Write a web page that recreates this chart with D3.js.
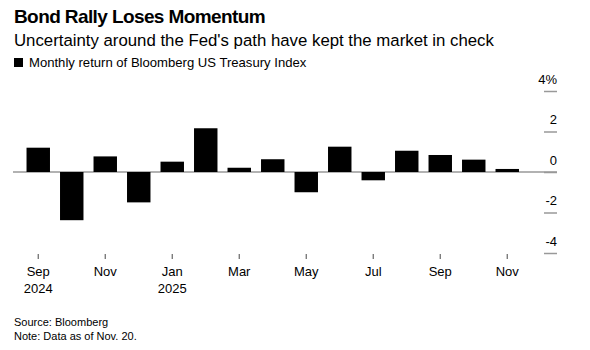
<!DOCTYPE html>
<html>
<head>
<meta charset="utf-8">
<script src="https://cdn.jsdelivr.net/npm/d3@7"></script>
<style>
  body { margin: 0; background: #fff; }
  svg { display: block; font-family: "Liberation Sans", Arial, sans-serif; }
  .axis text { fill: #000; }
</style>
</head>
<body>
<svg width="590" height="350"></svg>
<script>
const months = ['Sep 2024', 'Oct 2024', 'Nov 2024', 'Dec 2024', 'Jan 2025', 'Feb 2025', 'Mar 2025',
  'Apr 2025', 'May 2025', 'Jun 2025', 'Jul 2025', 'Aug 2025', 'Sep 2025', 'Oct 2025', 'Nov 2025'];
const returns = [1.2, -2.38, 0.77, -1.5, 0.51, 2.16, 0.21, 0.63, -1.0, 1.25, -0.41, 1.05, 0.84, 0.61, 0.15];
const xTicks = ['Sep 2024', 'Nov 2024', 'Jan 2025', 'Mar 2025', 'May 2025', 'Jul 2025', 'Sep 2025', 'Nov 2025'];
const yTicks = [-4, -2, 0, 2, 4];

const svg = d3.select('svg');

// header
svg.append('text').attr('x', 14).attr('y', 23)
  .style('font-size', '19px').style('font-weight', 'bold').style('letter-spacing', '-0.6px')
  .text('Bond Rally Loses Momentum');
svg.append('text').attr('x', 14).attr('y', 46)
  .style('font-size', '16.8px')
  .text("Uncertainty around the Fed's path have kept the market in check");
svg.append('rect').attr('x', 14).attr('y', 58).attr('width', 9).attr('height', 9).attr('fill', '#000');
svg.append('text').attr('x', 29).attr('y', 67)
  .style('font-size', '13.1px')
  .text('Monthly return of Bloomberg US Treasury Index');

const x = d3.scaleBand()
  .domain(months)
  .range([21.5, 524])
  .paddingInner(0.3)
  .paddingOuter(0.15);

const y = d3.scaleLinear()
  .domain([-4, 4])
  .range([253, 91]);

// y axis
const yAxis = svg.append('g').attr('class', 'axis')
  .attr('transform', 'translate(544,0)')
  .call(d3.axisRight(y).tickValues(yTicks).tickSize(13).tickFormat(''));
yAxis.select('.domain').remove();
yAxis.selectAll('.tick line').attr('stroke', '#999').attr('stroke-width', 1.5);
yAxis.selectAll('.tick').append('text')
  .attr('x', 13).attr('y', -8)
  .attr('text-anchor', 'end')
  .style('font-size', '13px')
  .each(function(d) {
    const t = d3.select(this);
    t.append('tspan').text(d < 0 ? '-' + Math.abs(d) : d);
    if (d === 4) t.append('tspan').text('%');
  });
yAxis.selectAll('.tick').filter(d => d === 4).select('text')
  .attr('text-anchor', 'start').attr('x', 4);

// zero line
svg.append('line')
  .attr('x1', 13).attr('x2', 557)
  .attr('y1', y(0)).attr('y2', y(0))
  .attr('stroke', '#999').attr('stroke-width', 1.5);

// bars
svg.append('g').selectAll('rect').data(months)
  .enter().append('rect')
  .attr('x', d => x(d))
  .attr('width', x.bandwidth())
  .attr('y', (d, i) => y(Math.max(0, returns[i])))
  .attr('height', (d, i) => Math.abs(y(returns[i]) - y(0)))
  .attr('fill', '#000');

// x axis
const xAxis = svg.append('g').attr('class', 'axis')
  .attr('transform', 'translate(0,254)')
  .call(d3.axisBottom(x).tickValues(xTicks).tickSize(5).tickFormat(''));
xAxis.select('.domain').remove();
xAxis.selectAll('.tick line').attr('stroke', '#666').attr('stroke-width', 1.2);
xAxis.selectAll('.tick').append('text')
  .attr('text-anchor', 'middle')
  .style('font-size', '13px')
  .each(function(d) {
    const [m, yr] = d.split(' ');
    const t = d3.select(this);
    t.append('tspan').attr('x', 0).attr('y', 22).text(m);
    if (m === 'Sep' && yr === '2024' || m === 'Jan') {
      t.append('tspan').attr('x', 0).attr('y', 39).text(yr);
    }
  });

// footer
svg.append('text').attr('x', 14).attr('y', 326)
  .style('font-size', '11px').text('Source: Bloomberg');
svg.append('text').attr('x', 14).attr('y', 340)
  .style('font-size', '11px').text('Note: Data as of Nov. 20.');
</script>
</body>
</html>
